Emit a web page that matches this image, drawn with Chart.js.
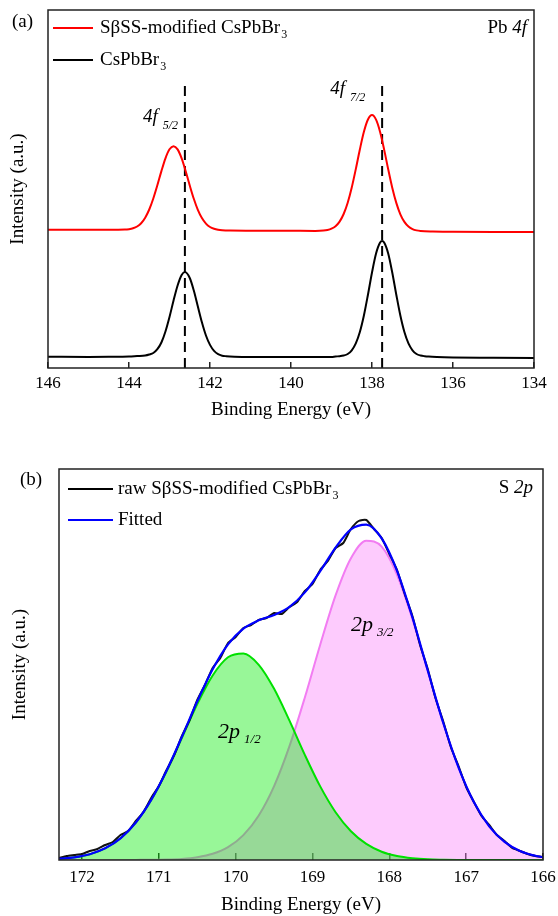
<!DOCTYPE html>
<html lang="en">
<head>
<meta charset="UTF-8">
<title>XPS Pb 4f and S 2p</title>
<style>
  html, body { margin: 0; padding: 0; background: #fff; }
  canvas { position: absolute; left: 0; }
  #chart-a { top: 0; }
  #chart-b { top: 450px; }
</style>
</head>
<body>
<canvas id="chart-a" width="558" height="430"></canvas>
<canvas id="chart-b" width="558" height="466"></canvas>

<script src="https://cdn.jsdelivr.net/npm/chart.js"></script>
<script>
// ---- panel (a): Pb 4f ----
const pbTicks = [146, 144, 142, 140, 138, 136, 134];

const redEnergy = [146, 145, 144.5, 144.1, 144.0, 143.9, 143.8, 143.7, 143.6, 143.5, 143.4, 143.3, 143.2, 143.1, 143.0,
  142.9, 142.8, 142.7, 142.6, 142.5, 142.4, 142.3, 142.2, 142.1, 142.0, 141.9, 141.8, 141.7, 141.5, 141.0, 140.0,
  139.4, 139.2, 139.1, 139.0, 138.9, 138.8, 138.7, 138.6, 138.5, 138.4, 138.3, 138.2, 138.1, 138.0, 137.9, 137.8,
  137.7, 137.6, 137.5, 137.4, 137.3, 137.2, 137.1, 137.0, 136.9, 136.8, 136.5, 136.0, 135.0, 134.0];
const redIntensity = [138.3, 138.2, 138.2, 138.4, 138.8, 139.7, 141.5, 144.8, 150.3, 158.5, 169.5, 182.7, 196.9, 209.7, 218.7,
  221.8, 218.6, 209.6, 196.7, 182.5, 169.2, 158.1, 149.9, 144.4, 141.0, 139.2, 138.2, 137.7, 137.4, 137.3, 137.2,
  137.1, 137.4, 138.0, 139.3, 141.8, 146.4, 154.0, 165.3, 180.5, 198.9, 218.5, 236.2, 248.5, 253.0, 248.4, 236.1,
  218.4, 198.7, 180.3, 165.1, 153.7, 146.1, 141.5, 138.9, 137.6, 137.0, 136.5, 136.3, 136.1, 136.0];

const blackEnergy = [146, 145, 144.5, 144.0, 143.8, 143.6, 143.5, 143.4, 143.3, 143.2, 143.1, 143.0, 142.9, 142.8, 142.7,
  142.62, 142.5, 142.4, 142.3, 142.2, 142.1, 142.0, 141.9, 141.8, 141.7, 141.6, 141.4, 141.0, 140.0, 139.0,
  138.9, 138.8, 138.7, 138.6, 138.5, 138.4, 138.3, 138.2, 138.1, 138.0, 137.9, 137.8, 137.75, 137.7, 137.6,
  137.5, 137.4, 137.3, 137.2, 137.1, 137.0, 136.9, 136.8, 136.7, 136.6, 136.4, 136.0, 135.0, 134.0];
const blackIntensity = [11.2, 11.1, 11.2, 11.5, 12.0, 12.5, 13.5, 15.0, 18.8, 25.5, 36.5, 51.0, 67.5, 82.5, 93.0,
  96.0, 90.0, 77.5, 61.5, 45.7, 32.5, 23.1, 17.1, 13.8, 12.3, 11.8, 11.3, 11.0, 11.0, 11.0,
  11.5, 11.8, 12.5, 14.0, 17.7, 24.6, 36.0, 52.5, 73.3, 95.5, 114.5, 125.5, 127.0, 125.5, 114.5,
  95.5, 73.3, 52.5, 36.0, 24.6, 17.7, 14.0, 12.5, 11.8, 11.4, 11.0, 10.6, 10.3, 10.0];

const peakMarks = [142.62, 137.75];   // dashed reference lines
const markTop = 285;

// ---- panel (b): S 2p ----
const sTicks = [172, 171, 170, 169, 168, 167, 166];

const fitEnergy = [172.3, 172.1, 171.9, 171.7, 171.5, 171.3, 171.1, 170.9, 170.7, 170.5, 170.3, 170.1, 169.9,
  169.7, 169.5, 169.3, 169.1, 168.9, 168.7, 168.5, 168.3, 168.1, 167.9, 167.7, 167.5, 167.3, 167.1, 166.9,
  166.7, 166.5, 166.3, 166.1, 166.0];
const p12Intensity = [1.2, 2.7, 5.8, 11.7, 21.7, 37.4, 59.9, 88.8, 122.1, 155.9, 184.5, 202.7, 206.5,
  195.2, 171.2, 139.3, 105.1, 73.6, 47.8, 28.8, 16.1, 8.3, 4.0, 1.8, 0.7, 0.3, 0.1, 0,
  0, 0, 0, 0, 0];
const p32Intensity = [0, 0, 0, 0, 0, 0.1, 0.2, 0.4, 1.1, 2.8, 6.2, 12.9, 24.9,
  44.5, 73.9, 113.8, 162.5, 215.3, 264.6, 301.8, 319.3, 313.3, 285.2, 240.9, 188.8, 137.2, 92.5, 57.9,
  33.6, 18.1, 9.0, 4.2, 2.8];
const fitIntensity = [1.2, 2.7, 5.8, 11.7, 21.7, 37.5, 60.1, 89.2, 123.2, 158.7, 190.7, 215.6, 231.4,
  239.7, 245.1, 253.1, 267.6, 288.9, 312.4, 330.6, 335.4, 321.6, 289.2, 242.7, 189.5, 137.5, 92.6, 57.9,
  33.6, 18.1, 9.0, 4.2, 2.8];

const rawEnergy = [172.3, 172.2, 172.1, 172.0, 171.9, 171.8, 171.7, 171.6, 171.5, 171.4, 171.3, 171.2, 171.1, 171.0,
  170.9, 170.8, 170.7, 170.6, 170.5, 170.4, 170.3, 170.2, 170.1, 170.0, 169.9, 169.8, 169.7, 169.6, 169.5,
  169.4, 169.3, 169.2, 169.1, 169.0, 168.9, 168.8, 168.7, 168.6, 168.5, 168.4, 168.3, 168.2, 168.1, 168.0,
  167.9, 167.8, 167.7, 167.6, 167.5, 167.4, 167.3, 167.2, 167.1, 167.0, 166.9, 166.8, 166.7, 166.6, 166.5,
  166.4, 166.3, 166.2, 166.1, 166.0];
const rawIntensity = [2, 4, 5, 6, 9, 11, 15, 18, 25, 29, 39, 48, 62, 74,
  90, 105, 124, 140, 160, 175, 192, 202, 217, 223, 232, 235, 240, 242, 247,
  246, 253, 258, 269, 276, 290, 299, 312, 317, 331, 339, 340, 331, 322, 306,
  290, 266, 244, 215, 191, 162, 139, 113, 94, 73, 58, 44, 35, 25, 19,
  12, 9, 6, 4, 3];

const SERIF = '"Liberation Serif", "Times New Roman", serif';

function pts(xs, ys) { return xs.map((x, i) => ({x: x, y: ys[i]})); }

const frame = {
  id: 'frame',
  afterDraw(chart) {
    const {ctx, chartArea: a} = chart;
    ctx.save();
    ctx.strokeStyle = '#222';
    ctx.lineWidth = 1.5;
    ctx.strokeRect(a.left, a.top, a.right - a.left, a.bottom - a.top);
    ctx.restore();
  }
};

// text with a subscript
function subText(ctx, x, y, main, sub, mainFont, subFont, drop) {
  ctx.font = mainFont;
  ctx.fillText(main, x, y);
  const w = ctx.measureText(main).width;
  ctx.font = subFont;
  ctx.fillText(sub, x + w + (drop.gap || 1), y + drop.dy);
}

function legendLine(ctx, x1, x2, y, color) {
  ctx.strokeStyle = color;
  ctx.lineWidth = 2;
  ctx.beginPath();
  ctx.moveTo(x1, y);
  ctx.lineTo(x2, y);
  ctx.stroke();
}

const textA = {
  id: 'textA',
  afterDraw(chart) {
    const ctx = chart.ctx;
    ctx.save();
    ctx.fillStyle = '#000';
    ctx.textBaseline = 'middle';
    ctx.textAlign = 'left';
    ctx.font = '19px ' + SERIF;
    ctx.fillText('(a)', 12, 22);

    legendLine(ctx, 53, 93, 28, '#ff0000');
    subText(ctx, 100, 28, 'S\u03b2SS-modified CsPbBr', '3', '19px ' + SERIF, '12px ' + SERIF, {dy: 7});
    legendLine(ctx, 53, 93, 60, '#000');
    subText(ctx, 100, 60, 'CsPbBr', '3', '19px ' + SERIF, '12px ' + SERIF, {dy: 7});

    // Pb 4f, top right
    ctx.font = 'italic 19px ' + SERIF;
    const w4f = ctx.measureText('4f').width;
    const xr = chart.chartArea.right - 7;
    ctx.fillText('4f', xr - w4f, 28);
    ctx.font = '19px ' + SERIF;
    const wPb = ctx.measureText('Pb ').width;
    ctx.fillText('Pb ', xr - w4f - wPb, 28);

    const xs = chart.scales.x;
    const it = 'italic 19px ' + SERIF, itSub = 'italic 12px ' + SERIF;
    subText(ctx, xs.getPixelForValue(peakMarks[0]) - 42, 117, '4f', '5/2', it, itSub, {dy: 9, gap: 5});
    subText(ctx, xs.getPixelForValue(peakMarks[1]) - 52, 89, '4f', '7/2', it, itSub, {dy: 9, gap: 5});
    ctx.restore();
  }
};

const textB = {
  id: 'textB',
  afterDraw(chart) {
    const ctx = chart.ctx;
    ctx.save();
    ctx.fillStyle = '#000';
    ctx.textBaseline = 'middle';
    ctx.textAlign = 'left';
    ctx.font = '19px ' + SERIF;
    ctx.fillText('(b)', 20, 30);

    legendLine(ctx, 68, 113, 39, '#000');
    subText(ctx, 118, 39, 'raw S\u03b2SS-modified CsPbBr', '3', '19px ' + SERIF, '12px ' + SERIF, {dy: 7});
    legendLine(ctx, 68, 113, 70, '#0000ff');
    ctx.font = '19px ' + SERIF;
    ctx.fillText('Fitted', 118, 70);

    ctx.font = 'italic 19px ' + SERIF;
    const w2p = ctx.measureText('2p').width;
    const xr = chart.chartArea.right - 10;
    ctx.fillText('2p', xr - w2p, 38);
    ctx.font = '19px ' + SERIF;
    const wS = ctx.measureText('S ').width;
    ctx.fillText('S ', xr - w2p - wS, 38);

    const xs = chart.scales.x;
    const it = 'italic 22px ' + SERIF, itSub = 'italic 13px ' + SERIF;
    subText(ctx, xs.getPixelForValue(168.5), 175, '2p', '3/2', it, itSub, {dy: 8, gap: 4});
    subText(ctx, xs.getPixelForValue(170.23), 282, '2p', '1/2', it, itSub, {dy: 8, gap: 4});
    ctx.restore();
  }
};

function xAxis(min, max, ticks, height, tickLen, labelPad, titlePad) {
  return {
    type: 'linear', min: min, max: max, reverse: true,
    afterBuildTicks: s => { s.ticks = ticks.map(v => ({value: v})); },
    afterFit: s => { s.height = height; s.paddingLeft = 0; s.paddingRight = 0; },
    grid: { drawOnChartArea: false, drawTicks: true, tickLength: -tickLen, color: '#222', lineWidth: 1.5 },
    border: { display: false },
    ticks: { color: '#000', font: { family: SERIF, size: 17 }, padding: labelPad, maxRotation: 0, autoSkip: false },
    title: { display: true, text: 'Binding Energy (eV)', color: '#000',
             font: { family: SERIF, size: 19 }, padding: { top: 0, bottom: titlePad } }
  };
}

function yAxis(max, width, titlePad) {
  return {
    type: 'linear', min: 0, max: max,
    afterFit: s => { s.width = width; s.paddingTop = 0; s.paddingBottom = 0; },
    ticks: { display: false },
    grid: { display: false },
    border: { display: false },
    title: { display: true, text: 'Intensity (a.u.)', color: '#000',
             font: { family: SERIF, size: 19 }, padding: { top: titlePad, bottom: 0 } }
  };
}

const common = {
  responsive: false,
  animation: false,
  plugins: { legend: { display: false }, tooltip: { enabled: false } },
  elements: { point: { radius: 0 } }
};

new Chart(document.getElementById('chart-a'), {
  type: 'line',
  data: {
    datasets: [
      { data: pts(redEnergy, redIntensity), borderColor: '#ff0000', borderWidth: 2, cubicInterpolationMode: 'monotone', fill: false },
      { data: pts(blackEnergy, blackIntensity), borderColor: '#000', borderWidth: 2, cubicInterpolationMode: 'monotone', fill: false },
      { data: pts([peakMarks[0], peakMarks[0]], [0, markTop]), borderColor: '#000', borderWidth: 2, borderDash: [10, 6], fill: false },
      { data: pts([peakMarks[1], peakMarks[1]], [0, markTop]), borderColor: '#000', borderWidth: 2, borderDash: [10, 6], fill: false }
    ]
  },
  options: Object.assign({}, common, {
    layout: { padding: { left: 0, right: 24, top: 10, bottom: 0 } },
    scales: { x: xAxis(134, 146, pbTicks, 62, 6, 11, 9), y: yAxis(358, 48, 7) }
  }),
  plugins: [frame, textA]
});

new Chart(document.getElementById('chart-b'), {
  type: 'line',
  data: {
    datasets: [
      { data: pts(fitEnergy, fitIntensity), borderColor: '#0000ff', borderWidth: 2.2, cubicInterpolationMode: 'monotone', fill: false },
      { data: pts(rawEnergy, rawIntensity), borderColor: '#111', borderWidth: 2, tension: 0.2, fill: false },
      { data: pts(fitEnergy, p12Intensity), borderColor: '#00e000', borderWidth: 2, cubicInterpolationMode: 'monotone',
        fill: 'origin', backgroundColor: 'rgba(10, 235, 10, 0.42)' },
      { data: pts(fitEnergy, p32Intensity), borderColor: '#f27cf2', borderWidth: 2, cubicInterpolationMode: 'monotone',
        fill: 'origin', backgroundColor: 'rgba(250, 130, 250, 0.42)' }
    ]
  },
  options: Object.assign({}, common, {
    layout: { padding: { left: 0, right: 15, top: 19, bottom: 0 } },
    scales: { x: xAxis(166, 172.3, sTicks, 56, 7, 14, 0), y: yAxis(391, 59, 9) }
  }),
  plugins: [frame, textB]
});
</script>
</body>
</html>
